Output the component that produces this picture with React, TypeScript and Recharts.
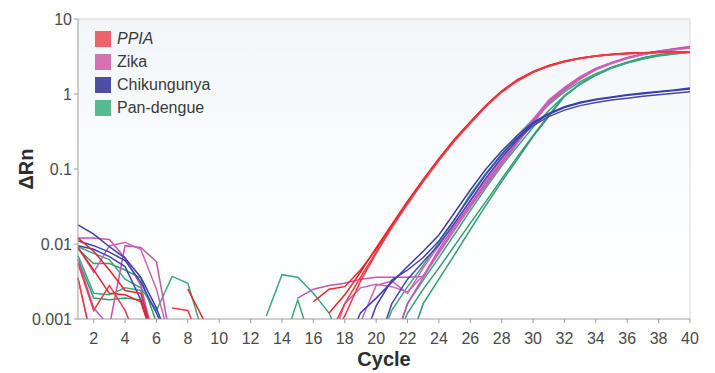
import { LineChart, Line, XAxis, YAxis, CartesianGrid, ReferenceLine, Legend } from 'recharts'

const FONT = '"Liberation Sans", Arial, Helvetica, sans-serif'
const _ = null

const CYCLES = [
  1, 2, 3, 4, 5, 6, 7, 8, 9, 10, 11, 12, 13, 14, 15, 16, 17, 18, 19, 20,
  21, 22, 23, 24, 25, 26, 27, 28, 29, 30, 31, 32, 33, 34, 35, 36, 37, 38, 39, 40,
]
const X_TICKS = [2, 4, 6, 8, 10, 12, 14, 16, 18, 20, 22, 24, 26, 28, 30, 32, 34, 36, 38, 40]
const Y_TICKS = [0.001, 0.01, 0.1, 1, 10]

// ΔRn per cycle, one array per replicate well. null = no trace drawn.
// values under 0.001 just run off the bottom of the plot and get clipped
const PPIA_1 = [0.009, 0.0045, 0.0022, 0.0021, 0.0017, 0.0004, _, _, _, _, _, _, _, _, _, _,
  0.0012, 0.0021, 0.0042, 0.0089, 0.0182, 0.0372, 0.0724, 0.138, 0.251, 0.427, 0.708, 1.1,
  1.55, 2.0, 2.4, 2.75, 3.02, 3.24, 3.39, 3.51, 3.55, 3.59, 3.63, 3.63]
const PPIA_2 = [0.012, 0.008, 0.0045, 0.0024, 0.0022, 0.0004, _, 0.0025, 0.00098, _, _, _, _, _, _,
  0.0017, 0.0025, 0.0027, 0.0045, 0.0085, 0.0176, 0.036, 0.071, 0.135, 0.245, 0.42, 0.7, 1.08,
  1.52, 1.97, 2.38, 2.72, 3.0, 3.22, 3.37, 3.48, 3.55, 3.6, 3.62, 3.65]
const PPIA_3 = [0.0055, 0.0013, 0.0028, 0.0013, 0.0004, _, 0.0014, 0.0013, 0.0004, _, _, _, _, _, _, _,
  0.0006, 0.0016, 0.0036, 0.0078, 0.0168, 0.035, 0.069, 0.132, 0.24, 0.41, 0.69, 1.07,
  1.5, 1.95, 2.35, 2.7, 2.98, 3.2, 3.35, 3.46, 3.53, 3.58, 3.6, 3.62]
const PPIA_4 = [0.0035, 0.0004, _, _, _, _, _, _, _, _, _, _, _, _, _, _,
  0.0005, 0.0011, 0.0032, 0.0075, 0.0165, 0.034, 0.068, 0.13, 0.238, 0.405, 0.68, 1.06,
  1.49, 1.94, 2.34, 2.69, 2.97, 3.19, 3.34, 3.45, 3.52, 3.57, 3.6, 3.62]

const ZIKA_1 = [0.012, 0.012, 0.0115, 0.0065, 0.0028, 0.0004, _, _, _, _, _, _, _, _, _, _, _, _, _, _,
  0.0004, 0.0016, 0.0036, 0.0078, 0.016, 0.032, 0.062, 0.118, 0.224, 0.417, 0.76, 1.15,
  1.62, 2.14, 2.57, 3.02, 3.39, 3.72, 3.98, 4.27]
const ZIKA_2 = [0.0062, 0.0014, 0.0008, 0.0095, 0.009, 0.0058, 0.0004, _, _, _, _, _, _, _,
  0.0019, 0.0025, 0.0028, 0.003, 0.0034, 0.0036, 0.0036, 0.0036, 0.0037, 0.0085, 0.0175, 0.034,
  0.066, 0.126, 0.234, 0.43, 0.79, 1.2, 1.68, 2.2, 2.63, 3.08, 3.45, 3.75, 4.0, 4.3]
const ZIKA_3 = [0.009, 0.0042, 0.0095, 0.0105, 0.0085, 0.0025, 0.0004, _, _, _, _, _, _, _, _, _, _, _,
  0.0009, 0.0028, 0.0032, 0.0022, 0.0048, 0.0095, 0.019, 0.037, 0.071, 0.135, 0.25, 0.46,
  0.83, 1.23, 1.7, 2.2, 2.6, 3.02, 3.35, 3.65, 3.9, 4.15]
const ZIKA_4 = [0.0035, 0.0004, _, _, _, _, _, _, _, _, _, _, _, _, _, _,
  0.0004, 0.0016, 0.0026, 0.0029, 0.0027, 0.0023, 0.0038, 0.0075, 0.0155, 0.031, 0.06, 0.115,
  0.22, 0.41, 0.74, 1.12, 1.58, 2.1, 2.55, 2.98, 3.35, 3.65, 3.9, 4.1]

const CHIK_1 = [0.018, 0.0135, 0.0092, 0.0065, 0.0036, 0.0014, 0.0004, _, _, _, _, _, _, _, _, _, _,
  0.0004, 0.0012, 0.0019, 0.0031, 0.005, 0.008, 0.0132, 0.0263, 0.0525, 0.1, 0.174, 0.28,
  0.417, 0.55, 0.676, 0.776, 0.851, 0.91, 0.98, 1.03, 1.08, 1.13, 1.2]
const CHIK_2 = [0.011, 0.0095, 0.0078, 0.006, 0.0031, 0.0012, 0.0004, _, _, _, _, _, _, _, _, _, _, _,
  0.0004, 0.0015, 0.0033, 0.0045, 0.0066, 0.011, 0.0215, 0.043, 0.085, 0.155, 0.26, 0.4,
  0.535, 0.66, 0.76, 0.84, 0.9, 0.96, 1.01, 1.06, 1.11, 1.17]
const CHIK_3 = [0.0095, 0.0085, 0.0068, 0.005, 0.0018, 0.0004, _, _, _, _, _, _, _, _, _, _, _, _, _,
  0.0004, 0.0016, 0.0034, 0.0058, 0.0098, 0.019, 0.038, 0.076, 0.142, 0.245, 0.38,
  0.5, 0.61, 0.7, 0.77, 0.83, 0.88, 0.93, 0.98, 1.02, 1.07]

const DENV_1 = [0.0085, 0.0055, 0.0055, 0.0045, 0.0035, 0.0009, _, _, _, _, _, _, _, _, _, _, _, _, _, _, _,
  0.0004, 0.0016, 0.0034, 0.0072, 0.0155, 0.033, 0.068, 0.135, 0.27, 0.5, 0.93, 1.35,
  1.78, 2.24, 2.63, 3.02, 3.31, 3.5, 3.63]
const DENV_2 = [0.0062, 0.0019, 0.0018, 0.0019, 0.0018, 0.0004, _, _, _, _, _, _, _, _, _, _, _, _, _, _,
  0.0004, 0.0012, 0.0025, 0.0048, 0.0095, 0.019, 0.037, 0.074, 0.145, 0.28, 0.52, 0.95,
  1.38, 1.82, 2.27, 2.66, 3.04, 3.33, 3.52, 3.65]
const DENV_3 = [0.0092, 0.0075, 0.0062, 0.0034, 0.0026, 0.0013, 0.0037, 0.003, 0.0006, _, _, _,
  0.0011, 0.0039, 0.0036, 0.0022, 0.0012, 0.0004, _,
  0.0004, 0.0013, 0.0027, 0.0052, 0.0105, 0.021, 0.046, 0.088, 0.16, 0.28, 0.46, 0.72,
  1.07, 1.46, 1.86, 2.25, 2.6, 2.95, 3.25, 3.45, 3.6]
const DENV_4 = [0.007, 0.0022, 0.0021, 0.0026, 0.0024, 0.0004, _, _, _, _, _, _, _,
  0.0004, 0.0018, 0.0004, _, _, _, _,
  0.0004, 0.0016, 0.0033, 0.0066, 0.0135, 0.028, 0.056, 0.11, 0.2, 0.36, 0.6, 0.95,
  1.35, 1.78, 2.2, 2.58, 2.93, 3.22, 3.42, 3.58]

const RED = '#ec2229'
const PINK = '#c552b4'
const BLUE = '#3d3fa9'
const GREEN = '#2f9d6e'

// drawing order: greens at the back, PPIA on top
const SERIES = [
  { key: 'denv1', color: GREEN, values: DENV_1 },
  { key: 'denv2', color: GREEN, values: DENV_2 },
  { key: 'denv3', color: '#3aa87c', values: DENV_3 },
  { key: 'denv4', color: '#3aa87c', values: DENV_4 },
  { key: 'zika1', color: PINK, values: ZIKA_1 },
  { key: 'zika2', color: PINK, values: ZIKA_2 },
  { key: 'zika3', color: '#cc62bb', values: ZIKA_3 },
  { key: 'zika4', color: '#cc62bb', values: ZIKA_4 },
  { key: 'chik1', color: BLUE, values: CHIK_1 },
  { key: 'chik2', color: BLUE, values: CHIK_2 },
  { key: 'chik3', color: '#4446b2', values: CHIK_3 },
  { key: 'ppia1', color: RED, values: PPIA_1 },
  { key: 'ppia2', color: RED, values: PPIA_2 },
  { key: 'ppia3', color: '#f03a44', values: PPIA_3 },
  { key: 'ppia4', color: '#f03a44', values: PPIA_4 },
]

const LEGEND_ITEMS = [
  { label: 'PPIA', swatch: '#f0616b', italic: true },
  { label: 'Zika', swatch: '#d274b4', italic: false },
  { label: 'Chikungunya', swatch: '#4f4ea5', italic: false },
  { label: 'Pan-dengue', swatch: '#58b98f', italic: false },
]

const rows = CYCLES.map((cycle, i) => {
  const row: Record<string, number | null> = { cycle }
  for (const s of SERIES) row[s.key] = s.values[i]
  return row
})

function LegendBox() {
  return (
    <div style={{ fontFamily: FONT }}>
      {LEGEND_ITEMS.map((it) => (
        <div key={it.label} style={{ display: 'flex', alignItems: 'center', height: 23 }}>
          <span style={{ width: 16, height: 16, background: it.swatch, display: 'inline-block' }} />
          <span style={{ marginLeft: 6, fontSize: 16, color: '#3a3a3a', fontStyle: it.italic ? 'italic' : 'normal' }}>
            {it.label}
          </span>
        </div>
      ))}
    </div>
  )
}

function YTitle(props: any) {
  const vb = props.viewBox || { x: 18, y: 19, width: 60, height: 300 }
  const cx = vb.x + 8
  const cy = vb.y + vb.height / 2
  return (
    <text x={cx} y={cy} transform={`rotate(-90 ${cx} ${cy})`} textAnchor="middle" dominantBaseline="central"
      fill="#2e2e2e" fontSize={20} fontWeight={700} fontFamily={FONT}>
      ΔRn
    </text>
  )
}

export default function App() {
  return (
    <>
      <style>{'body{margin:0;background:#fff}'}</style>
      <LineChart width={715} height={373} data={rows} margin={{ top: 19, right: 25, left: 18, bottom: 0 }}
        style={{ fontFamily: FONT }}>
        <defs>
          <linearGradient id="plotBg" x1="0" y1="0" x2="0" y2="1">
            <stop offset="0%" stopColor="#f2f6f9" />
            <stop offset="45%" stopColor="#fafcfd" />
            <stop offset="100%" stopColor="#ffffff" />
          </linearGradient>
        </defs>
        <CartesianGrid horizontal={false} vertical={false} fill="url(#plotBg)" stroke="none" />
        <ReferenceLine y={10} stroke="#dcd5d5" strokeWidth={1} />
        <ReferenceLine x={40} stroke="#dcd5d5" strokeWidth={1} />
        <XAxis dataKey="cycle" type="number" domain={[1, 40]} ticks={X_TICKS} interval={0}
          stroke="#a39b9b" tickSize={4} tickMargin={10} height={54}
          tick={{ fill: '#4a4a4a', fontSize: 16 }}
          label={{ value: 'Cycle', position: 'insideBottom', offset: 7, fill: '#2e2e2e', fontSize: 20, fontWeight: 700 }} />
        <YAxis type="number" scale="log" domain={[0.001, 10]} ticks={Y_TICKS} allowDataOverflow
          stroke="#a39b9b" tickSize={4} tickMargin={2} width={60}
          tick={{ fill: '#4a4a4a', fontSize: 16 }}
          tickFormatter={(v: number) => String(v)}
          label={{ content: (p: any) => <YTitle {...p} /> }} />
        <Legend layout="vertical" align="center" verticalAlign="middle"
          wrapperStyle={{ left: 95, top: 27, width: 160, height: 92 }}
          content={() => <LegendBox />} />
        {SERIES.map((s) => (
          <Line key={s.key} dataKey={s.key} stroke={s.color} strokeWidth={1.5} dot={false}
            type="linear" isAnimationActive={false} legendType="none" />
        ))}
      </LineChart>
    </>
  )
}
